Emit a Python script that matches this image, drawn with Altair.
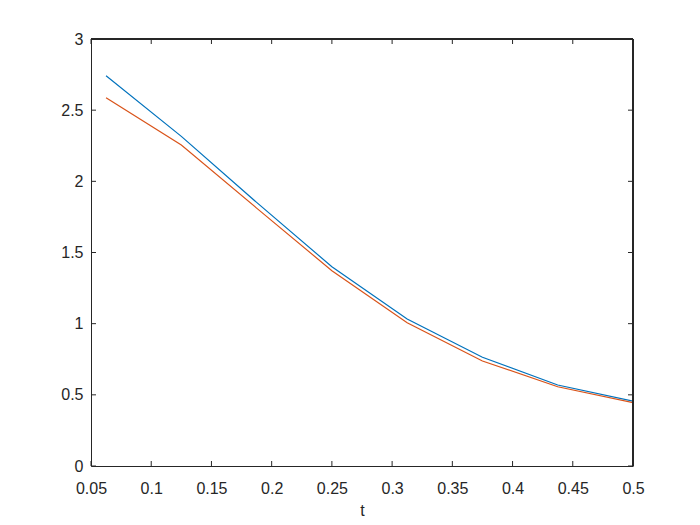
import altair as alt
import pandas as pd

t = [0.0625, 0.125, 0.1875, 0.25, 0.3125, 0.375, 0.4375, 0.5]
series_a = [2.742, 2.316, 1.852, 1.400, 1.033, 0.764, 0.569, 0.455]
series_b = [2.588, 2.255, 1.812, 1.372, 1.007, 0.738, 0.557, 0.445]
x_ticks = [0.05, 0.1, 0.15, 0.2, 0.25, 0.3, 0.35, 0.4, 0.45, 0.5]
y_ticks = [0, 0.5, 1, 1.5, 2, 2.5, 3]

W, H = 542, 427
FONT = "Liberation Sans"
AX = "#262626"

df = pd.DataFrame({
    "t": t * 2,
    "v": series_a + series_b,
    "s": ["a"] * len(t) + ["b"] * len(t),
})
dfx = pd.DataFrame({"x": x_ticks})
dfy = pd.DataFrame({"y": y_ticks})

xs = alt.Scale(domain=[0.05, 0.5], nice=False, zero=False)
ys = alt.Scale(domain=[0, 3], nice=False, zero=False)

xaxis = alt.Axis(values=x_ticks, ticks=False, grid=False, labelFont=FONT, labelFontSize=16,
                 labelColor=AX, domainColor=AX, labelPadding=14, title="t", titleFont=FONT,
                 titleFontSize=16, titleFontWeight="normal", titleColor=AX, titlePadding=6,
                 labelFlush=False, format="~g")
yaxis = alt.Axis(values=y_ticks, ticks=False, grid=False, labelFont=FONT, labelFontSize=16,
                 labelColor=AX, domainColor=AX, labelPadding=8, title=None,
                 labelFlush=False, format="~g")

lines = alt.Chart(df).mark_line(strokeWidth=1.2, clip=True).encode(
    x=alt.X("t:Q", scale=xs, axis=xaxis),
    y=alt.Y("v:Q", scale=ys, axis=yaxis),
    color=alt.Color("s:N", scale=alt.Scale(domain=["a", "b"], range=["#0072BD", "#D95319"]), legend=None),
)

tb = alt.Chart(dfx).mark_rule(color=AX, strokeWidth=1).encode(
    x=alt.X("x:Q", scale=xs), y=alt.value(H), y2=alt.value(H - 5))
tt = alt.Chart(dfx).mark_rule(color=AX, strokeWidth=1).encode(
    x=alt.X("x:Q", scale=xs), y=alt.value(0), y2=alt.value(5))
tl = alt.Chart(dfy).mark_rule(color=AX, strokeWidth=1).encode(
    y=alt.Y("y:Q", scale=ys), x=alt.value(0), x2=alt.value(5))
tr = alt.Chart(dfy).mark_rule(color=AX, strokeWidth=1).encode(
    y=alt.Y("y:Q", scale=ys), x=alt.value(W), x2=alt.value(W - 5))
box_top = alt.Chart(dfx).mark_rule(color=AX, strokeWidth=1).encode(
    x=alt.value(0), x2=alt.value(W), y=alt.value(0))
box_right = alt.Chart(dfx).mark_rule(color=AX, strokeWidth=1).encode(
    x=alt.value(W), y=alt.value(0), y2=alt.value(H))

chart = alt.layer(lines, tb, tt, tl, tr, box_top, box_right).properties(
    width=W, height=H,
    autosize=alt.AutoSizeParams(type="none"),
    padding={"left": 83, "top": 31, "right": 59, "bottom": 51},
).configure_view(stroke=None).configure(background="white")

chart.save("out.html", embed_options={"renderer": "svg", "actions": False})
